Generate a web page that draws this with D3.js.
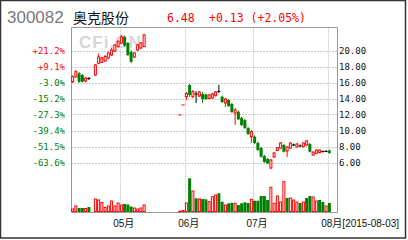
<!DOCTYPE html>
<html><head><meta charset="utf-8">
<script src="https://cdn.jsdelivr.net/npm/d3@7"></script>
<style>
html,body{margin:0;padding:0;background:#fff;}
svg{display:block;}
</style></head><body>
<svg id="c" width="408" height="240"></svg>
<script>
const stockCode = "300082";
const stockName = "奥克股份";
const lastPrice = "6.48";
const changeText = "+0.13 (+2.05%)";
const dateLabel = "[2015-08-03]";
const watermark = "CFi.CN";
const priceTicks = [20, 18, 16, 14, 12, 10, 8, 6];
const pctLabels = ["+21.2%", "+9.1%", "-3.0%", "-15.2%", "-27.3%", "-39.4%", "-51.5%", "-63.6%"];
const monthLabels = ["05月", "06月", "07月", "08月"];
const monthStartIdx = [15, 35, 56, 79];
const N = null;
const opens = [16.10,16.70,17.15,16.94,16.19,16.50,N,16.94,18.40,18.50,18.69,19.06,19.44,19.94,20.48,20.90,21.69,20.94,19.81,19.19,20.06,20.31,20.48,
  N,N,N,N,N,N,N,N,N,N,
  11.94,13.19,14.25,15.69,14.23,14.56,14.31,14.56,14.50,14.00,14.06,14.35,14.88,14.23,13.44,13.81,13.31,12.19,12.35,11.56,11.31,10.31,9.23,
  9.23,8.44,7.81,6.81,6.44,5.31,6.69,7.50,7.81,8.19,7.44,7.81,8.19,7.94,8.06,7.98,8.19,8.31,6.94,7.13,7.25,7.38,7.38,7.50];
const highs = [16.88,17.56,17.31,17.06,16.69,16.69,N,18.31,19.63,19.19,19.44,19.81,20.31,20.81,21.31,21.94,21.88,21.06,20.06,19.81,20.81,21.06,22.06,
  N,N,N,N,N,N,N,N,N,N,
  11.94,13.19,14.81,15.81,15.06,14.94,14.94,14.81,14.62,14.55,14.70,14.90,15.69,14.35,14.06,13.94,13.44,12.81,12.50,11.70,11.45,10.45,10.06,
  9.40,8.60,7.95,6.95,6.55,6.44,7.30,7.90,8.55,8.30,8.05,8.50,8.35,8.40,8.25,8.50,8.80,8.45,7.40,7.65,7.62,7.50,7.56,7.60];
const lows = [15.94,16.63,15.94,16.00,16.00,16.31,N,16.81,18.31,18.44,18.56,18.94,19.31,19.81,20.38,20.81,20.44,19.31,18.44,19.06,19.94,20.19,20.44,
  N,N,N,N,N,N,N,N,N,N,
  11.94,13.19,13.81,14.19,14.06,13.44,14.19,13.44,13.80,13.90,13.95,14.25,14.69,13.45,12.94,12.95,12.19,10.69,11.30,10.55,10.20,9.45,8.44,
  8.30,7.45,6.60,5.95,5.80,5.19,6.60,7.45,7.75,7.25,6.69,7.75,8.05,7.90,7.95,7.90,8.10,7.25,6.85,7.05,7.15,7.25,7.30,7.10];
const closes = [16.73,17.35,16.10,16.10,16.56,16.50,N,18.19,19.19,19.06,19.25,19.69,20.06,20.69,21.10,21.73,20.63,19.44,18.60,19.69,20.69,20.94,21.94,
  N,N,N,N,N,N,N,N,N,N,
  11.94,13.19,14.63,14.44,14.85,14.56,14.81,13.94,13.94,14.44,14.56,14.81,14.88,13.56,13.94,13.06,12.31,12.56,11.40,10.69,10.31,9.56,9.85,
  8.44,7.56,6.73,6.06,5.88,6.31,7.19,7.85,8.44,7.35,7.94,8.44,8.19,8.31,8.06,8.44,8.69,7.35,7.31,7.56,7.56,7.38,7.38,7.19];
const volumes = [30,60,40,40,35,50,N,130,120,95,45,60,110,60,90,70,80,75,55,40,30,40,70,
  N,N,N,N,N,N,N,N,N,N,
  8,15,90,337,210,137,130,130,127,103,153,170,187,103,70,87,93,87,70,87,97,90,127,
  113,113,160,160,120,247,87,160,100,303,140,140,120,100,90,100,140,160,150,110,120,100,60,90];
const volRed = [1,1,0,0,1,0,N,1,1,1,1,1,1,1,1,1,0,0,0,1,1,1,1,
  N,N,N,N,N,N,N,N,N,N,
  1,1,1,0,1,0,1,0,0,1,1,1,0,0,1,0,0,1,0,0,0,0,1,
  0,0,0,0,0,1,1,1,1,1,0,1,1,1,0,1,0,0,1,1,0,0,1,0];

const RED = "#ff0000", GREEN = "#008000", GRID = "#cfcfcf", AXIS = "#999";
const svg = d3.select("#c");
const L = 71, R = 337, T = 27.5, B = 212;

const x = d3.scaleLinear().domain([0, 81.85]).range([L, R]);
const y = d3.scaleLinear().domain([6, 20]).range([162.5, 50.5]);
const yv = d3.scaleLinear().domain([0, 420]).range([B, B - 42]);

// outer frame
svg.append("rect").attr("x", 0.5).attr("y", 0.5).attr("width", 405).attr("height", 237.5)
  .attr("fill", "none").attr("stroke", "#333").attr("stroke-width", 1.5);

// title
svg.append("text").attr("x", 7).attr("y", 23).attr("font-family", "Liberation Sans, Arial, sans-serif")
  .attr("font-size", 17).attr("fill", "#7a7a7a").text(stockCode);
svg.append("text").attr("x", 73).attr("y", 23).attr("font-family", "Noto Sans CJK SC, sans-serif")
  .attr("font-size", 14).attr("fill", "#111").text(stockName);
svg.append("text").attr("x", 167).attr("y", 22).attr("font-family", "DejaVu Sans Mono, monospace")
  .attr("font-size", 11.5).attr("fill", RED).text(lastPrice);
svg.append("text").attr("x", 209).attr("y", 22).attr("font-family", "DejaVu Sans Mono, monospace")
  .attr("font-size", 11.5).attr("fill", RED).text(changeText);

// watermark
svg.append("text").attr("x", 79).attr("y", 48).attr("font-family", "Liberation Sans, Arial, sans-serif")
  .attr("font-weight", "bold").attr("font-size", 17).attr("letter-spacing", 1).attr("fill", "#d6d6d6").text(watermark);

// gridlines
svg.append("g").selectAll("line").data(priceTicks).join("line")
  .attr("x1", L).attr("x2", R).attr("y1", d => Math.round(y(d)) + 0.5).attr("y2", d => Math.round(y(d)) + 0.5)
  .attr("stroke", GRID).attr("stroke-dasharray", "2,1");
svg.append("g").selectAll("line").data(monthStartIdx).join("line")
  .attr("x1", d => Math.round(x(d)) + 0.5).attr("x2", d => Math.round(x(d)) + 0.5).attr("y1", T).attr("y2", B)
  .attr("stroke", GRID).attr("stroke-dasharray", "2,1");

// frame of plot
svg.append("path").attr("d", `M${L + 0.5},${B + 0.5}V${T}H${R + 0.5}V${B + 0.5}H${L + 0.5}`)
  .attr("fill", "none").attr("stroke", AXIS);

// axes
const fontAxis = "DejaVu Sans Mono, Noto Sans CJK SC, monospace";
const gl = svg.append("g").attr("transform", `translate(${L},0)`)
  .call(d3.axisLeft(y).tickValues(priceTicks).tickSize(0).tickPadding(6).tickFormat((d, i) => pctLabels[i]));
gl.select(".domain").remove();
gl.selectAll("text").attr("font-family", fontAxis).attr("font-size", 9)
  .attr("fill", (d, i) => pctLabels[i].startsWith("+") ? RED : GREEN);

const gr = svg.append("g").attr("transform", `translate(${R},0)`)
  .call(d3.axisRight(y).tickValues(priceTicks).tickSize(0).tickPadding(2).tickFormat(d3.format(".2f")));
gr.select(".domain").remove();
gr.selectAll("text").attr("font-family", fontAxis).attr("font-size", 9).attr("fill", "#111");

const gb = svg.append("g").attr("transform", `translate(0,${B})`)
  .call(d3.axisBottom(x).tickValues(monthStartIdx).tickSize(0).tickPadding(8)
    .tickFormat((d, i) => monthLabels[i] + (i === monthLabels.length - 1 ? dateLabel : "")));
gb.select(".domain").remove();
gb.selectAll("text").attr("font-family", "Liberation Sans, Arial, Noto Sans CJK SC, sans-serif")
  .attr("font-size", 10).attr("fill", "#111")
  .attr("text-anchor", "start").attr("dx", -7);

// data rows
const rows = opens.map((o, i) => ({ i, o, h: highs[i], l: lows[i], c: closes[i], v: volumes[i], vr: volRed[i] }))
  .filter(d => d.o !== null);
const cx = i => x(i + 0.5);

// volume
const gv = svg.append("g");
gv.selectAll("rect").data(rows).join("rect")
  .attr("x", d => d.vr ? cx(d.i) - 1 : cx(d.i) - 1.5)
  .attr("width", d => d.vr ? 2 : 3)
  .attr("y", d => yv(d.v))
  .attr("height", d => Math.max(0.5, B - yv(d.v) - (d.vr ? 0.5 : 0)))
  .attr("fill", d => d.vr ? "none" : GREEN)
  .attr("stroke", d => d.vr ? RED : "none");

// candles
const colorOf = d => d.c > d.o ? RED : d.c < d.o ? GREEN : (d.h === d.l ? RED : "#000");
const gc = svg.append("g");
gc.selectAll("line.wick").data(rows.filter(d => d.h !== d.l)).join("line").attr("class", "wick")
  .attr("x1", d => cx(d.i)).attr("x2", d => cx(d.i))
  .attr("y1", d => y(d.h)).attr("y2", d => y(d.l))
  .attr("stroke", colorOf).attr("stroke-width", 1);
gc.selectAll("rect.body").data(rows.filter(d => d.c !== d.o)).join("rect").attr("class", "body")
  .attr("x", d => d.c > d.o ? cx(d.i) - 1 : cx(d.i) - 1.5)
  .attr("width", d => d.c > d.o ? 2 : 3)
  .attr("y", d => y(Math.max(d.o, d.c)))
  .attr("height", d => Math.abs(y(d.o) - y(d.c)))
  .attr("fill", d => d.c > d.o ? "#fff" : GREEN)
  .attr("stroke", d => d.c > d.o ? RED : "none");
gc.selectAll("line.flat").data(rows.filter(d => d.c === d.o)).join("line").attr("class", "flat")
  .attr("x1", d => cx(d.i) - 1.6).attr("x2", d => cx(d.i) + 1.6)
  .attr("y1", d => y(d.c)).attr("y2", d => y(d.c))
  .attr("stroke", colorOf).attr("stroke-width", 1);
</script>
</body></html>
